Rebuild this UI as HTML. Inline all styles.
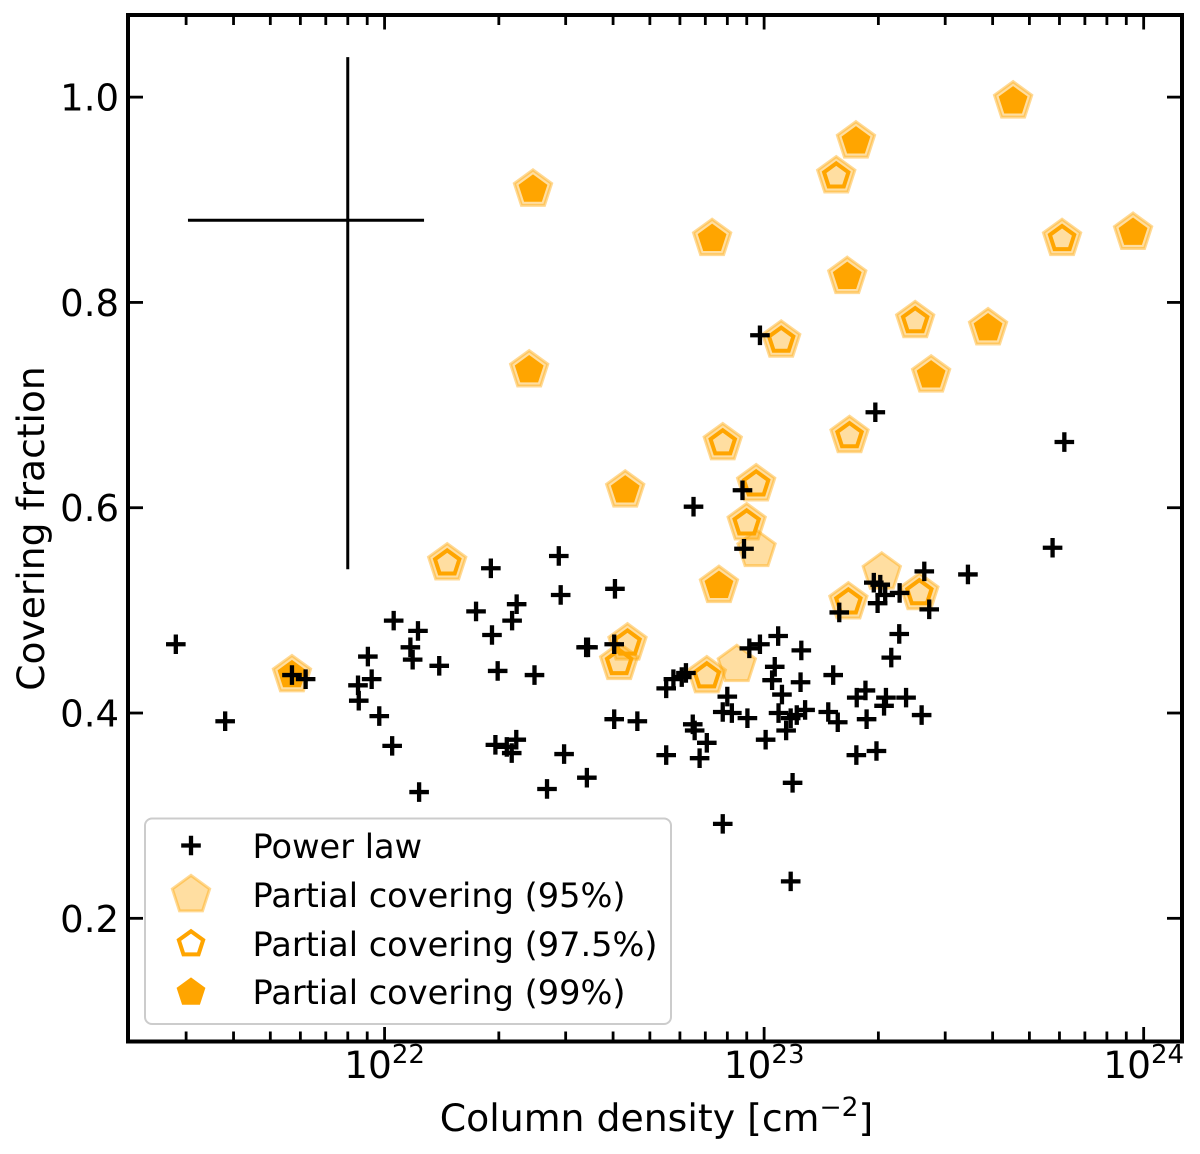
<!DOCTYPE html>
<html lang="en">
<head>
<meta charset="utf-8">
<title>Covering fraction vs column density</title>
<style>
html,body{margin:0;padding:0;background:#fff;}
svg{display:block;font-family:"DejaVu Sans","Liberation Sans",sans-serif;fill:#000;text-rendering:geometricPrecision;}
</style>
</head>
<body>
<svg id="chart" xmlns="http://www.w3.org/2000/svg" width="1200" height="1154" viewBox="0 0 1200 1154">
  <rect x="0" y="0" width="1200" height="1154" fill="#fff"/>
  <g id="marks95"></g>
  <g id="marks975"></g>
  <g id="marks99"></g>
  <g id="errorbar"></g>
  <g id="marksPL"></g>
  <g id="ticks"></g>
  <rect x="128" y="15" width="1054" height="1026.5" fill="none" stroke="#000" stroke-width="4"/>
  <text x="656.5" y="1131" font-size="37.8" text-anchor="middle">Column density [cm<tspan font-size="26.5" dy="-15">−2</tspan><tspan dy="15">]</tspan></text>
  <text transform="translate(44,528.5) rotate(-90)" font-size="37.6" text-anchor="middle">Covering fraction</text>
  <g id="legend">
    <rect x="145" y="818.5" width="526" height="205.5" rx="7" ry="7" fill="#fff" fill-opacity="0.8" stroke="#ccc" stroke-width="2"/>
    <g id="legendMarks"></g>
    <text x="252.5" y="858" font-size="33.6">Power law</text>
    <text x="252.5" y="907" font-size="33.6">Partial covering (95%)</text>
    <text x="252.5" y="956" font-size="33.6">Partial covering (97.5%)</text>
    <text x="252.5" y="1004" font-size="33.6">Partial covering (99%)</text>
  </g>
</svg>
<script>
// Data: x values are log10(column density / cm^-2), y values are covering fraction
const powerLawLogN = [21.450,21.580,21.756,21.792,21.930,21.932,21.956,21.966,21.986,22.020,22.024,22.068,22.074,22.088,22.091,22.144,22.241,22.280,22.283,22.298,22.292,22.322,22.335,22.347,22.348,22.336,22.395,22.428,22.459,22.464,22.473,22.533,22.531,22.536,22.607,22.605,22.605,22.666,22.742,22.742,22.761,22.783,22.794,22.814,22.812,22.817,22.849,22.830,22.891,22.903,22.891,22.915,22.956,22.943,22.947,22.961,22.989,22.989,23.004,23.037,23.028,23.021,23.047,23.038,23.058,23.075,23.070,23.098,23.096,23.108,23.086,23.070,23.169,23.194,23.182,23.198,23.243,23.244,23.267,23.270,23.296,23.293,23.289,23.306,23.319,23.299,23.357,23.356,23.335,23.321,23.316,23.374,23.415,23.422,23.435,23.537,23.760,23.791];
const powerLawCov = [0.467,0.392,0.437,0.433,0.427,0.412,0.455,0.433,0.397,0.368,0.490,0.464,0.452,0.480,0.323,0.446,0.499,0.541,0.476,0.441,0.369,0.367,0.361,0.374,0.506,0.490,0.437,0.326,0.553,0.515,0.360,0.337,0.464,0.464,0.521,0.467,0.394,0.392,0.359,0.424,0.433,0.435,0.439,0.601,0.389,0.383,0.371,0.356,0.292,0.416,0.401,0.400,0.395,0.617,0.560,0.463,0.467,0.768,0.374,0.475,0.445,0.432,0.418,0.400,0.383,0.332,0.236,0.461,0.430,0.403,0.398,0.395,0.401,0.391,0.437,0.498,0.359,0.415,0.422,0.394,0.363,0.693,0.527,0.525,0.515,0.507,0.517,0.477,0.454,0.415,0.407,0.415,0.398,0.538,0.501,0.535,0.561,0.664];
const only95LogN = [22.980,22.928,23.310];
const only95Cov = [0.559,0.447,0.537];
const level975LogN = [23.190,23.785,23.398,23.045,22.891,23.225,22.979,22.954,22.165,22.640,22.618,22.849,23.222,23.409];
const level975Cov = [0.923,0.862,0.782,0.763,0.663,0.670,0.623,0.585,0.546,0.468,0.449,0.436,0.508,0.517];
const level99LogN = [22.391,22.863,22.381,22.634,22.881,23.219,23.242,23.656,23.972,23.590,23.440,21.756];
const level99Cov = [0.910,0.862,0.734,0.617,0.524,0.825,0.957,0.996,0.868,0.775,0.729,0.437];
const errorBarLogN = [21.482,21.903,22.104];
const errorBarCov = [0.540,0.880,1.039];
const yTickValues = [0.2,0.4,0.6,0.8,1.0];
const yTickLabels = ["0.2","0.4","0.6","0.8","1.0"];
const xMajorExponents = [21,22,23,24];
const xMajorLabels = ["","22","23","24"];
const xMinorMultipliers = [2,3,4,5,6,7,8,9];

const NS = "http://www.w3.org/2000/svg";
const xScale = v => 128 + (v - 21.324) / (24.101 - 21.324) * 1054;
const yScale = v => 1041.5 - (v - 0.08) / (1.08 - 0.08) * 1026.5;
const ORANGE = "#ffa500";

function make(tag, parent) {
  const el = document.createElementNS(NS, tag);
  parent.appendChild(el);
  return el;
}
function pentagonPoints(cx, cy, r) {
  const pts = [];
  for (let i = 0; i < 5; i++) {
    const a = -Math.PI / 2 + i * 2 * Math.PI / 5;
    pts.push((cx + r * Math.cos(a)).toFixed(2) + "," + (cy + r * Math.sin(a)).toFixed(2));
  }
  return pts.join(" ");
}
function styleLight(el, cx, cy) {
  el.setAttribute("points", pentagonPoints(cx, cy, 19.6));
  el.setAttribute("fill", ORANGE);
  el.setAttribute("fill-opacity", "0.37");
  el.setAttribute("stroke", ORANGE);
  el.setAttribute("stroke-opacity", "0.42");
  el.setAttribute("stroke-width", "3");
}
function styleOpen(el, cx, cy) {
  el.setAttribute("points", pentagonPoints(cx, cy, 12.8));
  el.setAttribute("fill", "none");
  el.setAttribute("stroke", ORANGE);
  el.setAttribute("stroke-width", "4");
}
function styleFilled(el, cx, cy) {
  el.setAttribute("points", pentagonPoints(cx, cy, 14.4));
  el.setAttribute("fill", ORANGE);
  el.setAttribute("stroke", ORANGE);
  el.setAttribute("stroke-width", "1.2");
}
function drawPlus(parent, cx, cy) {
  const el = make("path", parent);
  el.setAttribute("d", "M" + (cx - 9.8) + " " + cy + "H" + (cx + 9.8) + "M" + cx + " " + (cy - 9.8) + "V" + (cy + 9.8));
  el.setAttribute("stroke", "#000");
  el.setAttribute("stroke-width", "4.3");
  el.setAttribute("fill", "none");
  return el;
}

// light pentagons: every source detected at 95% or better
const g95 = document.getElementById("marks95");
const all95LogN = only95LogN.concat(level975LogN, level99LogN);
const all95Cov = only95Cov.concat(level975Cov, level99Cov);
all95LogN.forEach((x, i) => {
  const el = make("polygon", g95);
  
  
  styleLight(el, xScale(x), yScale(all95Cov[i]));
});

// open pentagons
const g975 = document.getElementById("marks975");
level975LogN.forEach((x, i) => {
  const el = make("polygon", g975);
  
  
  styleOpen(el, xScale(x), yScale(level975Cov[i]));
});

// filled pentagons
const g99 = document.getElementById("marks99");
level99LogN.forEach((x, i) => {
  const el = make("polygon", g99);
  
  
  styleFilled(el, xScale(x), yScale(level99Cov[i]));
});

// representative error bar
const gErr = document.getElementById("errorbar");
const errH = make("line", gErr);


errH.setAttribute("x1", xScale(errorBarLogN[0]));
errH.setAttribute("x2", xScale(errorBarLogN[2]));
errH.setAttribute("y1", yScale(errorBarCov[1]));
errH.setAttribute("y2", yScale(errorBarCov[1]));
errH.setAttribute("stroke", "#000");
errH.setAttribute("stroke-width", "3");
const errV = make("line", gErr);


errV.setAttribute("x1", xScale(errorBarLogN[1]));
errV.setAttribute("x2", xScale(errorBarLogN[1]));
errV.setAttribute("y1", yScale(errorBarCov[0]));
errV.setAttribute("y2", yScale(errorBarCov[2]));
errV.setAttribute("stroke", "#000");
errV.setAttribute("stroke-width", "3");

// power-law points
const gPL = document.getElementById("marksPL");
powerLawLogN.forEach((x, i) => {
  const el = drawPlus(gPL, xScale(x), yScale(powerLawCov[i]));
  
  
});

// ticks and tick labels
const gTicks = document.getElementById("ticks");
function tickLine(x1, y1, x2, y2) {
  const el = make("line", gTicks);
  el.setAttribute("x1", x1);
  el.setAttribute("y1", y1);
  el.setAttribute("x2", x2);
  el.setAttribute("y2", y2);
  el.setAttribute("stroke", "#000");
  el.setAttribute("stroke-width", "2.8");
  return el;
}
yTickValues.forEach((v, i) => {
  const y = yScale(v);
  const left = tickLine(128, y, 143, y);
  
  
  const right = tickLine(1182, y, 1167, y);
  
  
  const t = make("text", gTicks);
  
  
  t.setAttribute("x", 119);
  t.setAttribute("y", y + 13.5);
  t.setAttribute("font-size", "37");
  t.setAttribute("text-anchor", "end");
  t.textContent = yTickLabels[i];
});
xMajorExponents.forEach((e, i) => {
  const x = xScale(e);
  if (x >= 128) {
    const bottom = tickLine(x, 1041.5, x, 1027);
    
    
    const top = tickLine(x, 15, x, 29.5);
    
    
    const t = make("text", gTicks);
    
    
    t.setAttribute("x", x);
    t.setAttribute("y", 1078);
    t.setAttribute("font-size", "37.5");
    t.setAttribute("text-anchor", "middle");
    t.textContent = "10";
    const s = make("tspan", t);
    s.setAttribute("font-size", "26");
    s.setAttribute("dy", "-15");
    s.textContent = xMajorLabels[i];
  }
  xMinorMultipliers.forEach(m => {
    const xm = xScale(e + Math.log10(m));
    if (xm > 128 && xm < 1182) {
      const b = tickLine(xm, 1041.5, xm, 1031.5);
      
      
      const tp = tickLine(xm, 15, xm, 25);
      
      
    }
  });
});

// legend markers
const gLeg = document.getElementById("legendMarks");
const legPlus = drawPlus(gLeg, 191, 845.5);


const leg95 = make("polygon", gLeg);


styleLight(leg95, 191, 895);
const leg975 = make("polygon", gLeg);


styleOpen(leg975, 191, 944);
const leg99 = make("polygon", gLeg);


styleFilled(leg99, 191, 992.5);
</script>
</body>
</html>
